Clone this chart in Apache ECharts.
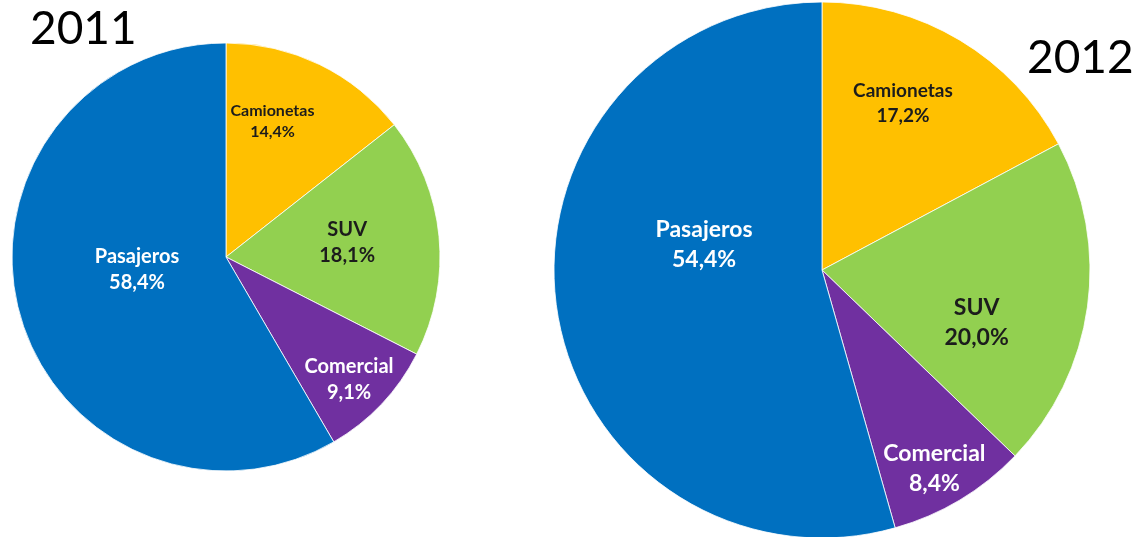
<!DOCTYPE html>
<html>
<head>
<meta charset="utf-8">
<script src="https://cdn.jsdelivr.net/npm/echarts@6/dist/echarts.min.js"></script>
<style>
  html, body { margin: 0; padding: 0; background: #ffffff; }
  #chart { width: 1135px; height: 537px; }
</style>
</head>
<body>
<div id="chart"></div>
<script>
// Vehicle market share by segment (%)
const categories = ['Camionetas', 'SUV', 'Comercial', 'Pasajeros'];
const share2011 = [14.4, 18.1, 9.1, 58.4];
const share2012 = [17.2, 20.0, 8.4, 54.4];
const years = ['2011', '2012'];

const sliceColors = ['#FFC000', '#92D050', '#7030A0', '#0070C0'];
const labelColors = ['#1c1c1c', '#1c1c1c', '#ffffff', '#ffffff'];

// Where each label sits inside its slice:
// [shift from the slice's mid-angle in degrees, fraction of the radius]
const labelPlace2011 = [[-7, 0.67], [-1, 0.57], [1.4, 0.81], [7, 0.42]];
const labelPlace2012 = [[-5, 0.69], [11, 0.61], [1.4, 0.85], [20, 0.45]];

const FONT = 'Lato, "Open Sans", sans-serif';

const pies = [
  { year: years[0], values: share2011, place: labelPlace2011,
    center: [226, 257], radius: 214, font: 20, smallFont: 16, lineHeight: 26 },
  { year: years[1], values: share2012, place: labelPlace2012,
    center: [822, 270], radius: 268, font: 23, smallFont: 19, lineHeight: 30 }
];

function pct(v) {
  return v.toFixed(1).replace('.', ',') + '%';
}

function midAngle(values, i) {
  const total = values.reduce((a, b) => a + b, 0);
  let before = 0;
  for (let k = 0; k < i; k++) before += values[k];
  return (before + values[i] / 2) / total * 360;
}

function pieSeries(p) {
  return {
    type: 'pie',
    name: p.year,
    center: p.center,
    radius: p.radius,
    startAngle: 90,
    clockwise: true,
    silent: true,
    itemStyle: { borderColor: '#ffffff', borderWidth: 0.8 },
    emphasis: { disabled: true },
    labelLine: { show: false },
    label: {
      show: true,
      position: 'inside',
      fontFamily: FONT,
      fontWeight: 'bold',
      fontSize: p.font,
      lineHeight: p.lineHeight,
      align: 'center',
      formatter: (d) => d.name + '\n' + pct(d.value)
    },
    labelLayout: (params) => {
      const i = params.dataIndex;
      const [shift, f] = p.place[i];
      const a = (midAngle(p.values, i) + shift) * Math.PI / 180;
      return {
        x: p.center[0] + Math.sin(a) * p.radius * f,
        y: p.center[1] - Math.cos(a) * p.radius * f,
        align: 'center',
        verticalAlign: 'middle'
      };
    },
    data: categories.map((name, i) => ({
      name: name,
      value: p.values[i],
      itemStyle: { color: sliceColors[i] },
      label: {
        color: labelColors[i],
        fontSize: i === 0 ? p.smallFont : p.font,
        lineHeight: i === 0 ? Math.round(p.smallFont * 1.3) : p.lineHeight
      }
    }))
  };
}

const chart = echarts.init(document.getElementById('chart'), null, { renderer: 'canvas' });

chart.setOption({
  animation: false,
  backgroundColor: '#ffffff',
  title: [
    { text: years[0], left: 25, top: 1,
      textStyle: { fontFamily: FONT, fontWeight: 'normal', fontSize: 46, color: '#000000' } },
    { text: years[1], left: 1022, top: 30,
      textStyle: { fontFamily: FONT, fontWeight: 'normal', fontSize: 46, color: '#000000' } }
  ],
  series: pies.map(pieSeries)
});
</script>
</body>
</html>
